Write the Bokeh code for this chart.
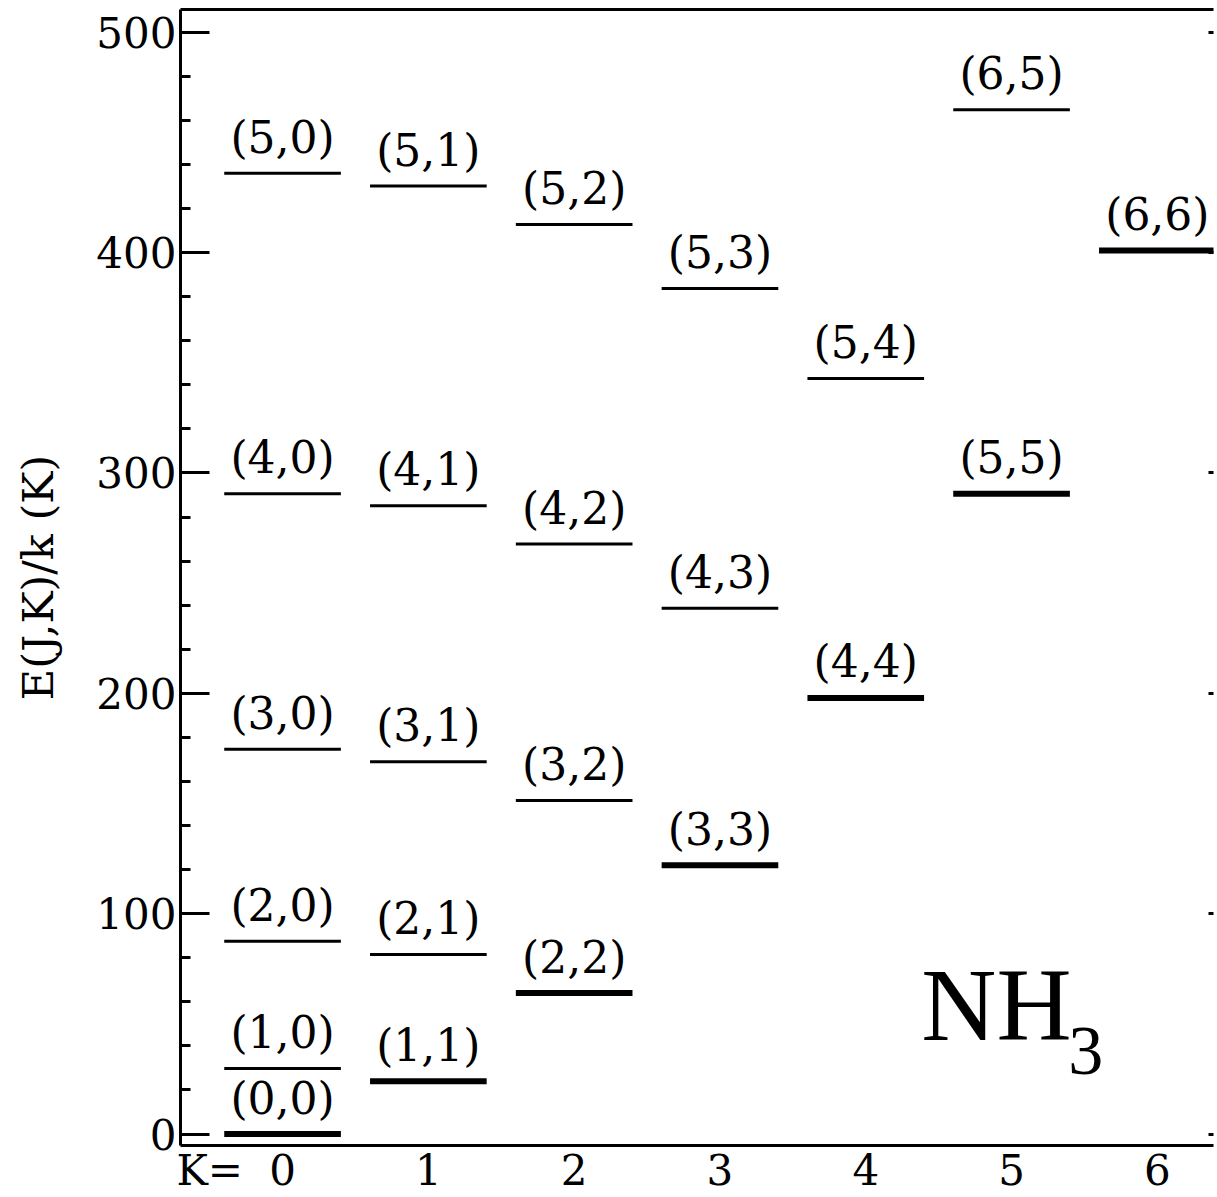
from bokeh.plotting import figure
from bokeh.models import (LinearAxis, SingleIntervalTicker, FixedTicker, Range1d,
                          ColumnDataSource, Label)
from bokeh.core.properties import value
from bokeh.embed import file_html
from bokeh.resources import INLINE

# ---- data ----
J_vals = [0, 1, 2, 3, 4, 5,
          1, 2, 3, 4, 5,
          2, 3, 4, 5,
          3, 4, 5,
          4, 5,
          5, 6,
          6]
K_vals = [0, 0, 0, 0, 0, 0,
          1, 1, 1, 1, 1,
          2, 2, 2, 2,
          3, 3, 3,
          4, 4,
          5, 5,
          6]
E_vals = [0.0, 29.7, 87.5, 174.6, 290.6, 436.0,
          23.9, 81.5, 168.9, 285.1, 430.2,
          64.0, 151.4, 267.7, 412.7,
          122.0, 238.6, 383.7,
          197.9, 342.9,
          290.5, 464.8,
          400.9]
K_ticks = [0, 1, 2, 3, 4, 5, 6]
k_prefix = "K="
k_prefix_pos = -0.5
y_label = "E(J,K)/k (K)"
molecule = "NH"
molecule_sub = "3"

# ---- styling ----
FONT = "DejaVu Serif"
HALF = 0.4

src = ColumnDataSource(dict(
    x0=[k - HALF for k in K_vals],
    x1=[k + HALF for k in K_vals],
    xc=K_vals,
    y=E_vals,
    lw=[6 if j == k else 3 for j, k in zip(J_vals, K_vals)],
    lab=["(%d,%d)" % (j, k) for j, k in zip(J_vals, K_vals)],
))

p = figure(width=1217, height=1197,
           x_range=Range1d(-0.70, 6.385), y_range=Range1d(-5.2, 510.3),
           output_backend="svg", toolbar_location=None,
           x_axis_location=None, y_axis_location=None,
           min_border_left=180, min_border_right=0,
           min_border_top=9, min_border_bottom=43)
p.outline_line_color = None
p.xgrid.visible = False
p.ygrid.visible = False
p.background_fill_color = "white"
p.border_fill_color = "white"

# left axis
yl = LinearAxis(ticker=SingleIntervalTicker(interval=100, num_minor_ticks=5),
                axis_label=y_label)
yl.axis_line_width = 3
yl.axis_line_color = "black"
yl.major_tick_in = 29
yl.major_tick_out = 0
yl.minor_tick_in = 10
yl.minor_tick_out = 0
yl.major_tick_line_width = 3
yl.minor_tick_line_width = 3
yl.major_label_text_font = FONT
yl.major_label_text_font_size = "42px"
yl.major_label_text_color = "black"
yl.major_label_standoff = 4
yl.axis_label_text_font = FONT
yl.axis_label_text_font_size = "43px"
yl.axis_label_text_font_style = "normal"
yl.axis_label_text_color = "black"
yl.axis_label_standoff = 30
p.add_layout(yl, "left")

# bottom axis
xb = LinearAxis(ticker=FixedTicker(ticks=[k_prefix_pos] + K_ticks))
xb.major_label_overrides = {k_prefix_pos: k_prefix}
xb.axis_line_width = 3
xb.axis_line_color = "black"
xb.major_tick_in = 0
xb.major_tick_out = 0
xb.major_tick_line_color = None
xb.minor_tick_line_color = None
xb.major_label_text_font = FONT
xb.major_label_text_font_size = "42px"
xb.major_label_text_color = "black"
xb.major_label_standoff = 0
p.add_layout(xb, "below")

# top frame line
xt = LinearAxis(ticker=FixedTicker(ticks=[]))
xt.axis_line_width = 3
xt.axis_line_color = "black"
xt.major_tick_line_color = None
xt.minor_tick_line_color = None
xt.major_tick_in = 0
xt.major_tick_out = 0
xt.major_label_standoff = 0
xt.major_label_text_font_size = "1px"
p.add_layout(xt, "above")

# right side: only the tick stubs visible at the cut edge
yr = LinearAxis(ticker=SingleIntervalTicker(interval=100, num_minor_ticks=5))
yr.axis_line_color = None
yr.major_tick_in = 5
yr.major_tick_out = 0
yr.major_tick_line_width = 3
yr.minor_tick_line_color = None
yr.major_label_standoff = 0
yr.major_label_text_font_size = "1px"
yr.major_label_overrides = {v: "" for v in range(0, 600, 100)}
p.add_layout(yr, "right")

# energy levels
p.segment(x0="x0", y0="y", x1="x1", y1="y", line_width="lw",
          line_color="black", line_cap="butt", source=src)
p.text(x="xc", y="y", text="lab", source=src,
       text_font=value(FONT), text_font_size=value("44px"),
       text_align="center", text_baseline="middle",
       y_offset=-36, text_color="black")

# molecule name
p.add_layout(Label(x=4.381, y=59.0, text=molecule,
                   text_font="Liberation Serif", text_font_size="104px",
                   text_baseline="middle", text_align="left", text_color="black"))
p.add_layout(Label(x=5.389, y=37.5, text=molecule_sub,
                   text_font="Liberation Serif", text_font_size="70px",
                   text_baseline="middle", text_align="left", text_color="black"))

open("out.html", "w").write(file_html(p, INLINE))
